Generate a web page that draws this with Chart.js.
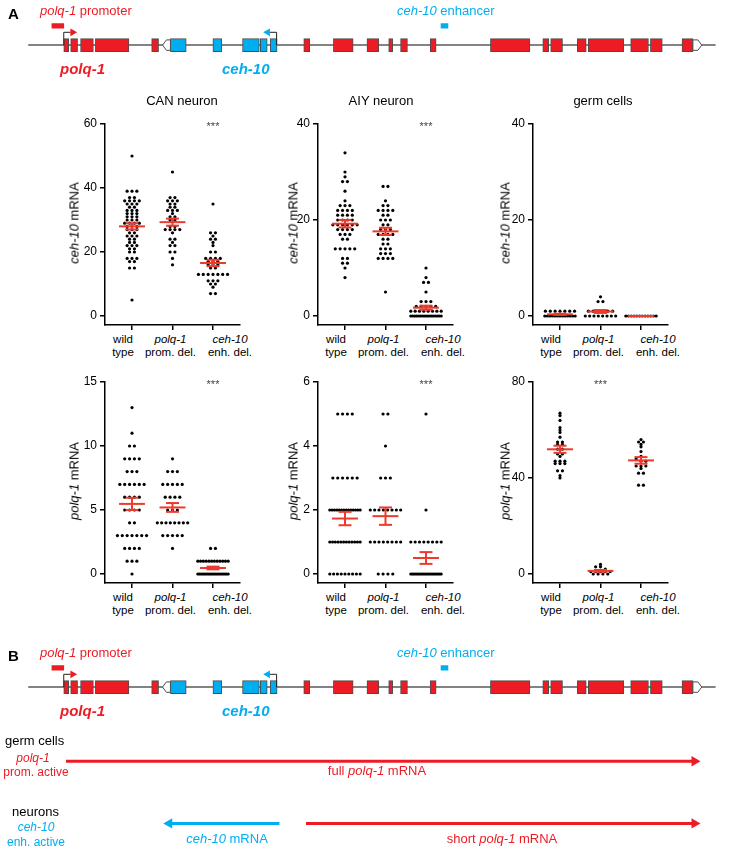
<!DOCTYPE html>
<html>
<head>
<meta charset="utf-8">
<script src="https://cdn.jsdelivr.net/npm/chart.js@4.4.1/dist/chart.umd.min.js"></script>
<style>
body { margin: 0; background: #fff; }
#fig { position: relative; width: 729px; height: 851px; overflow: hidden; font-family: "Liberation Sans", Arial, sans-serif; color: #000; }
#fig canvas { position: absolute; }
.t { position: absolute; white-space: nowrap; line-height: 1; }
</style>
</head>
<body>
<div id="fig"></div>
<script>
//categories on every dot plot
var groupLine1 = ['wild', 'polq-1', 'ceh-10'];
var groupLine2 = ['type', 'prom. del.', 'enh. del.'];
var groupItalic = [false, true, true];

//ceh-10 mRNA counts per cell (top row)
var canCehWT = [50, 39, 39, 39, 37, 37, 36, 36, 36, 36, 35, 35, 35, 34, 34, 33, 33, 33, 32, 32, 32, 31, 31, 31, 30, 30, 30, 29, 29, 29, 29, 28, 28, 28, 27, 27, 27, 26, 26, 25, 25, 25, 24, 24, 23, 23, 22, 22, 22, 21, 21, 20, 20, 18, 18, 18, 17, 17, 15, 15, 5];
var canCehProm = [45, 37, 37, 36, 36, 36, 35, 35, 34, 34, 33, 33, 33, 32, 31, 31, 30, 30, 28, 28, 27, 27, 27, 27, 26, 24, 24, 23, 22, 22, 20, 20, 18, 16];
var canCehEnh = [35, 26, 26, 25, 24, 24, 23, 22, 20, 20, 18, 18, 18, 18, 17, 17, 17, 16, 16, 16, 15, 15, 13, 13, 13, 13, 13, 13, 13, 11, 11, 11, 10, 10, 9, 7, 7];
var aiyCehWT = [34, 30, 29, 28, 28, 26, 24, 23, 23, 23, 22, 22, 22, 22, 21, 21, 21, 21, 20, 20, 20, 20, 19, 19, 19, 19, 19, 19, 18, 18, 18, 18, 17, 17, 17, 16, 16, 14, 14, 14, 14, 14, 12, 12, 11, 11, 10, 8];
var aiyCehProm = [27, 27, 24, 23, 23, 22, 22, 22, 22, 21, 21, 20, 20, 20, 19, 19, 18, 18, 18, 17, 17, 17, 17, 16, 16, 15, 15, 14, 14, 14, 13, 13, 13, 12, 12, 12, 12, 5];
var aiyCehEnh = [10, 8, 7, 7, 5, 3, 3, 3, 2, 2, 2, 2, 2, 1, 1, 1, 1, 1, 1, 1, 1, 0, 0, 0, 0, 0, 0, 0, 0, 0, 0, 0, 0, 0, 0, 0, 0];
var germCehWT = [1, 1, 1, 1, 1, 1, 1, 0, 0, 0, 0, 0, 0, 0, 0, 0, 0, 0, 0, 0];
var germCehProm = [4, 3, 3, 1, 1, 1, 1, 1, 1, 0, 0, 0, 0, 0, 0, 0, 0];
var germCehEnh = [0, 0, 0, 0, 0, 0, 0, 0, 0, 0, 0, 0];

//polq-1 mRNA counts per cell (bottom row)
var canPolqWT = [13, 11, 10, 10, 9, 9, 9, 9, 8, 8, 8, 7, 7, 7, 7, 7, 7, 6, 6, 6, 6, 5, 5, 5, 5, 4, 4, 3, 3, 3, 3, 3, 3, 3, 2, 2, 2, 2, 1, 1, 1, 0];
var canPolqProm = [9, 8, 8, 8, 7, 7, 7, 7, 7, 6, 6, 6, 6, 5, 5, 5, 4, 4, 4, 4, 4, 4, 4, 4, 3, 3, 3, 3, 3, 2];
var canPolqEnh = [2, 2, 1, 1, 1, 1, 1, 1, 1, 1, 1, 1, 1, 1, 0, 0, 0, 0, 0, 0, 0, 0, 0, 0, 0, 0, 0, 0, 0, 0, 0, 0, 0, 0];
var aiyPolqWT = [5, 5, 5, 5, 3, 3, 3, 3, 3, 3, 2, 2, 2, 2, 2, 2, 2, 2, 2, 2, 2, 2, 2, 2, 1, 1, 1, 1, 1, 1, 1, 1, 1, 1, 1, 1, 0, 0, 0, 0, 0, 0, 0, 0, 0];
var aiyPolqProm = [5, 5, 4, 3, 3, 3, 2, 2, 2, 2, 2, 2, 2, 2, 1, 1, 1, 1, 1, 1, 1, 1, 0, 0, 0, 0];
var aiyPolqEnh = [5, 2, 1, 1, 1, 1, 1, 1, 1, 1, 0, 0, 0, 0, 0, 0, 0, 0, 0, 0, 0, 0, 0, 0, 0, 0, 0, 0, 0, 0];
var germPolqWT = [67, 66, 64, 61, 60, 59, 57, 55, 55, 54, 54, 52, 52, 50, 50, 49, 47, 47, 47, 46, 46, 46, 43, 43, 41, 40];
var germPolqProm = [4, 3, 3, 2, 1, 1, 1, 1, 1, 0, 0, 0, 0];
var germPolqEnh = [56, 55, 55, 54, 53, 51, 49, 48, 47, 47, 45, 45, 45, 44, 42, 42, 37, 37];

//y tick labels of each plot
var ticksCanCeh = [0, 20, 40, 60];
var ticksAiyCeh = [0, 20, 40];
var ticksGermCeh = [0, 20, 40];
var ticksCanPolq = [0, 5, 10, 15];
var ticksAiyPolq = [0, 2, 4, 6];
var ticksGermPolq = [0, 40, 80];

//gene model (same genomic units as the page width)
var locusStart = 24, locusEnd = 720;
var exonStart = [60, 67, 77, 92, 149, 168, 211, 241, 259, 269, 303, 333, 367, 389, 401, 431, 492, 545, 553, 580, 591, 634, 654, 686];
var exonEnd = [65, 74, 90, 126, 156, 184, 220, 258, 266, 276, 309, 353, 379, 393, 408, 437, 532, 551, 565, 589, 627, 652, 666, 697];
var exonGene = ['polq', 'polq', 'polq', 'polq', 'polq', 'ceh', 'ceh', 'ceh', 'ceh', 'ceh', 'polq', 'polq', 'polq', 'polq', 'polq', 'polq', 'polq', 'polq', 'polq', 'polq', 'polq', 'polq', 'polq', 'polq'];
var utrStart = [160, 697];
var utrEnd = [168, 706];
var utrPoint = [-1, 1];
var tssPos = [60, 275.5];
var tssDir = [1, -1];
var tssGene = ['polq', 'ceh'];
var elemStart = [48, 442];
var elemEnd = [60, 449];
var elemGene = ['polq', 'ceh'];

//transcripts in panel B
var rnaStart = [61, 278, 305];
var rnaEnd = [706, 160, 706];
var rnaTrack = [0, 1, 1];
var rnaGene = ['polq', 'ceh', 'polq'];

var RED = '#ED1C24', BLUE = '#00AEEF', MEANRED = '#EE3A2C', EXONLINE = '#4d4d4d';
var geneColor = { polq: RED, ceh: BLUE };

Chart.defaults.font.family = '"Liberation Sans", Arial, sans-serif';
Chart.defaults.color = '#000';

var fig = document.getElementById('fig');

function addCanvas(left, top, w, h) {
	var c = document.createElement('canvas');
	c.width = w; c.height = h;
	c.style.left = left + 'px'; c.style.top = top + 'px';
	c.style.width = w + 'px'; c.style.height = h + 'px';
	fig.appendChild(c);
	return c;
}

//put a piece of html text on the figure, centred or left aligned
function txt(html, x, y, size, color, align, rot, weight) {
	var d = document.createElement('div');
	d.className = 't';
	d.innerHTML = html;
	d.style.fontSize = size + 'px';
	d.style.color = color || '#000';
	if (weight) d.style.fontWeight = weight;
	d.style.left = x + 'px';
	d.style.top = y + 'px';
	var tr = align === 'l' ? 'translate(0,-50%)' : 'translate(-50%,-50%)';
	if (rot) tr += ' rotate(-90deg)';
	d.style.transform = tr;
	fig.appendChild(d);
}

//spread values that land on nearly the same height side by side, like a Prism dot plot
//tol = how close (in data units) two values must be to share a row
function swarm(values, center, tol) {
	var counts = {}, seen = {};
	var bins = values.map(function(v) { return Math.round(v / tol); });
	bins.forEach(function(b) { counts[b] = (counts[b] || 0) + 1; });
	return values.map(function(v, i) {
		var b = bins[i], k = counts[b];
		seen[b] = seen[b] === undefined ? 0 : seen[b] + 1;
		var sp = k > 1 ? Math.min(0.12, 0.75 / (k - 1)) : 0;
		return { x: center + (seen[b] - (k - 1) / 2) * sp, y: v };
	});
}

function meanSem(values) {
	var n = values.length, m = 0, s = 0;
	values.forEach(function(v) { m += v; });
	m /= n;
	values.forEach(function(v) { s += (v - m) * (v - m); });
	return [m, Math.sqrt(s / (n - 1)) / Math.sqrt(n)];
}

var colAxisX = [105, 318, 533];
var rowTopY = [124, 382];
var titleX = [182, 381, 603];
var yTitleX = [74, 293, 505];
//the category labels sit a little spread out from their ticks
var labelShift = [-9, -2, 17];

function dotPanel(p) {
	var ax = colAxisX[p.col], top = rowTopY[p.row];
	var padL = 50, padT = 12, padR = 8, plotW = 135, plotH = 201, xH = 6;
	var ymax = p.ticks[p.ticks.length - 1];
	var ymin = -ymax * 9 / 192;
	var tol = ymax * 3 / 192;
	var left = ax - padL, ctop = top - padT;
	var cv = addCanvas(left, ctop, padL + plotW + padR, padT + plotH + xH);

	var ds = [];
	p.series.forEach(function(vals, i) {
		var c = i + 1, ms = meanSem(vals), m = ms[0], s = ms[1];
		var segs = [[c - 0.32, m, c + 0.32, m], [c - 0.16, m + s, c + 0.16, m + s], [c - 0.16, m - s, c + 0.16, m - s], [c, m - s, c, m + s]];
		segs.forEach(function(g) {
			ds.push({ data: [{ x: g[0], y: g[1] }, { x: g[2], y: g[3] }], showLine: true, borderColor: MEANRED, borderWidth: 2, pointRadius: 0, order: 0 });
		});
		ds.push({ data: swarm(vals, c, tol), pointRadius: 1.6, backgroundColor: '#000', borderWidth: 0, order: 1 });
	});

	var grid = { drawOnChartArea: false, drawTicks: true, tickLength: 5, color: '#000', lineWidth: 1.5 };
	var border = { color: '#000', width: 1.5 };
	var chart = new Chart(cv, {
		type: 'scatter',
		data: { datasets: ds },
		options: {
			responsive: false, animation: false, events: [],
			layout: { padding: { top: padT, right: padR, left: 0, bottom: 0 } },
			plugins: { legend: { display: false }, tooltip: { enabled: false } },
			scales: {
				x: {
					type: 'linear', min: 1 / 3, max: 11 / 3,
					afterBuildTicks: function(s) { s.ticks = [1, 2, 3].map(function(v) { return { value: v }; }); },
					afterFit: function(s) { s.height = xH; s.paddingLeft = 0; s.paddingRight = 0; },
					ticks: { display: false },
					grid: grid, border: border
				},
				y: {
					type: 'linear', min: ymin, max: ymax,
					afterBuildTicks: function(s) { s.ticks = p.ticks.map(function(v) { return { value: v }; }); },
					afterFit: function(s) { s.width = padL; s.paddingTop = 0; s.paddingBottom = 0; },
					ticks: { font: { size: 12 }, color: '#000', padding: 3 },
					grid: grid, border: border
				}
			}
		}
	});

	//category labels under the axis, first line italic for gene names
	var xs = chart.scales.x, ys = chart.scales.y;
	var axisY = ctop + chart.chartArea.bottom;
	for (var i = 0; i < 3; i++) {
		var gx = left + xs.getPixelForValue(i + 1) + labelShift[i];
		txt(groupItalic[i] ? '<i>' + groupLine1[i] + '</i>' : groupLine1[i], gx, axisY + 15, 11.5);
		txt(groupLine2[i], gx, axisY + 28, 11.5);
	}
	if (p.star) {
		txt('***', left + xs.getPixelForValue(p.star), ctop + ys.getPixelForValue(ymax) + 2, 11, '#444');
	}
	var zeroY = ctop + ys.getPixelForValue(0), maxY = ctop + ys.getPixelForValue(ymax);
	txt('<i>' + p.gene + '</i> mRNA', yTitleX[p.col], (zeroY + maxY) / 2 + 3, 13, '#000', 'c', true);
	if (p.title) txt(p.title, titleX[p.col], 100, 13);
}

//gene model drawn as floating bars on a linear genomic axis; base = page y of the backbone
function geneMap(base, letter) {
	var cv = addCanvas(0, base - 32, 729, 45);
	var ds = [];
	//arrowheads of the transcription start sites
	ds.push({
		type: 'line', showLine: false, order: 0,
		data: tssPos.map(function(t, i) { return { x: t + 9 * tssDir[i], y: 16 }; }),
		pointStyle: 'triangle', pointRadius: 4.5, pointBorderWidth: 0,
		pointRotation: tssDir.map(function(d) { return d * 90; }),
		pointBackgroundColor: tssGene.map(function(g) { return geneColor[g]; })
	});
	tssPos.forEach(function(t, i) {
		ds.push({ type: 'line', order: 1, data: [{ x: t, y: 0 }, { x: t, y: 16 }, { x: t + 7 * tssDir[i], y: 16 }], borderColor: '#222', borderWidth: 1, pointRadius: 0 });
	});
	//white UTR ends with pointed tips
	utrStart.forEach(function(s, i) {
		var e = utrEnd[i], pts;
		if (utrPoint[i] < 0) pts = [{ x: e, y: 6.5 }, { x: s + 4, y: 6.5 }, { x: s, y: 0 }, { x: s + 4, y: -6.5 }, { x: e, y: -6.5 }, { x: e, y: 6.5 }];
		else pts = [{ x: s, y: 6.5 }, { x: e - 4, y: 6.5 }, { x: e, y: 0 }, { x: e - 4, y: -6.5 }, { x: s, y: -6.5 }, { x: s, y: 6.5 }];
		ds.push({ type: 'line', order: 2, data: pts, fill: 'shape', backgroundColor: '#fff', borderColor: EXONLINE, borderWidth: 1, pointRadius: 0 });
	});
	//exons
	ds.push({
		type: 'bar', indexAxis: 'y', grouped: false, order: 3,
		barThickness: 13, maxBarThickness: 13,
		data: exonStart.map(function(s, i) { return { y: 0, x: [s, exonEnd[i]] }; }),
		backgroundColor: exonGene.map(function(g) { return geneColor[g]; }),
		borderColor: EXONLINE, borderWidth: 1, borderSkipped: false
	});
	//promoter and enhancer blocks
	ds.push({
		type: 'bar', indexAxis: 'y', grouped: false, order: 3,
		barThickness: 4.5, maxBarThickness: 4.5,
		data: elemStart.map(function(s, i) { return { y: 24, x: [s, elemEnd[i]] }; }),
		backgroundColor: elemGene.map(function(g) { return geneColor[g]; }),
		borderWidth: 0
	});
	//backbone
	ds.push({ type: 'line', order: 4, data: [{ x: locusStart, y: 0 }, { x: locusEnd, y: 0 }], borderColor: '#5a5a5a', borderWidth: 1.5, pointRadius: 0 });

	new Chart(cv, {
		type: 'bar',
		data: { datasets: ds },
		options: {
			responsive: false, animation: false, events: [],
			layout: { padding: 0 },
			plugins: { legend: { display: false }, tooltip: { enabled: false } },
			scales: {
				x: { type: 'linear', display: false, min: 0, max: 729, offset: false },
				y: { type: 'linear', display: false, min: -13, max: 32, offset: false }
			}
		}
	});

	txt(letter, 8, base - 34, 15, '#000', 'l', false, 'bold');
	txt('<i>polq-1</i> promoter', 40, base - 37, 13, RED, 'l');
	txt('<i>ceh-10</i> enhancer', 397, base - 37, 13, BLUE, 'l');
	txt('<i>polq-1</i>', 60, base + 21, 15, RED, 'l', false, 'bold');
	txt('<i>ceh-10</i>', 222, base + 21, 15, BLUE, 'l', false, 'bold');
}

//transcripts produced in each tissue
function rnaMap() {
	var top = 730, trackY = [28, 97];
	var cv = addCanvas(0, top, 729, 121);
	var ds = [];
	rnaStart.forEach(function(s, i) {
		var e = rnaEnd[i], dir = e > s ? 1 : -1, col = geneColor[rnaGene[i]], y = trackY[rnaTrack[i]];
		ds.push({
			data: [{ x: s, y: y }, { x: e - 6 * dir, y: y }],
			borderColor: col, borderWidth: 3,
			pointRadius: [0, 6], pointStyle: 'triangle', pointRotation: 90 * dir,
			pointBackgroundColor: col, pointBorderWidth: 0
		});
	});
	new Chart(cv, {
		type: 'line',
		data: { datasets: ds },
		options: {
			responsive: false, animation: false, events: [],
			layout: { padding: 0 },
			plugins: { legend: { display: false }, tooltip: { enabled: false } },
			scales: {
				x: { type: 'linear', display: false, min: 0, max: 729 },
				y: { type: 'linear', display: false, min: 0, max: 121, reverse: true }
			}
		}
	});
	txt('germ cells', 5, 740, 13, '#000', 'l');
	txt('<i>polq-1</i>', 33, 758, 12, RED);
	txt('prom. active', 36, 772, 12, RED);
	txt('full <i>polq-1</i> mRNA', 377, 770, 13, RED);
	txt('neurons', 12, 811, 13, '#000', 'l');
	txt('<i>ceh-10</i>', 36, 827, 12, BLUE);
	txt('enh. active', 36, 842, 12, BLUE);
	txt('<i>ceh-10</i> mRNA', 227, 838, 13, BLUE);
	txt('short <i>polq-1</i> mRNA', 502, 838, 13, RED);
}

geneMap(47, 'A');

var panels = [
	{ col: 0, row: 0, title: 'CAN neuron', gene: 'ceh-10', ticks: ticksCanCeh, series: [canCehWT, canCehProm, canCehEnh], star: 3 },
	{ col: 1, row: 0, title: 'AIY neuron', gene: 'ceh-10', ticks: ticksAiyCeh, series: [aiyCehWT, aiyCehProm, aiyCehEnh], star: 3 },
	{ col: 2, row: 0, title: 'germ cells', gene: 'ceh-10', ticks: ticksGermCeh, series: [germCehWT, germCehProm, germCehEnh], star: 0 },
	{ col: 0, row: 1, title: '', gene: 'polq-1', ticks: ticksCanPolq, series: [canPolqWT, canPolqProm, canPolqEnh], star: 3 },
	{ col: 1, row: 1, title: '', gene: 'polq-1', ticks: ticksAiyPolq, series: [aiyPolqWT, aiyPolqProm, aiyPolqEnh], star: 3 },
	{ col: 2, row: 1, title: '', gene: 'polq-1', ticks: ticksGermPolq, series: [germPolqWT, germPolqProm, germPolqEnh], star: 2 }
];
panels.forEach(dotPanel);

geneMap(689, 'B');
rnaMap();
</script>
</body>
</html>
